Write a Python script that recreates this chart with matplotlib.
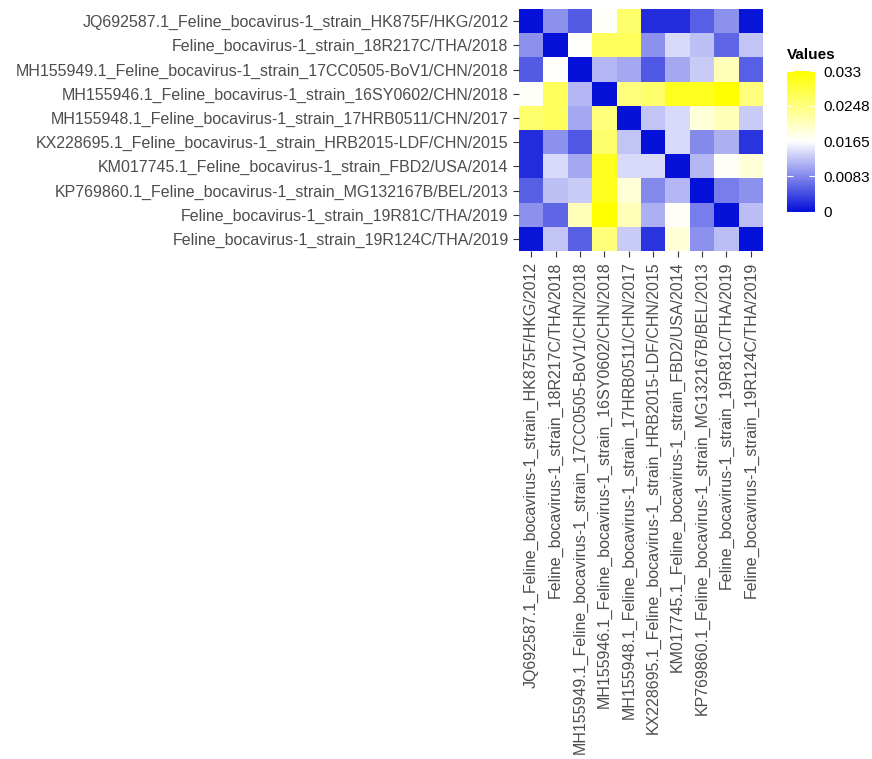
import numpy as np
import matplotlib
matplotlib.use("Agg")
import matplotlib.pyplot as plt
from matplotlib.colors import LinearSegmentedColormap

# strain labels, same order for rows (top to bottom) and columns (left to right)
strains = [
    "JQ692587.1_Feline_bocavirus-1_strain_HK875F/HKG/2012",
    "Feline_bocavirus-1_strain_18R217C/THA/2018",
    "MH155949.1_Feline_bocavirus-1_strain_17CC0505-BoV1/CHN/2018",
    "MH155946.1_Feline_bocavirus-1_strain_16SY0602/CHN/2018",
    "MH155948.1_Feline_bocavirus-1_strain_17HRB0511/CHN/2017",
    "KX228695.1_Feline_bocavirus-1_strain_HRB2015-LDF/CHN/2015",
    "KM017745.1_Feline_bocavirus-1_strain_FBD2/USA/2014",
    "KP769860.1_Feline_bocavirus-1_strain_MG132167B/BEL/2013",
    "Feline_bocavirus-1_strain_19R81C/THA/2019",
    "Feline_bocavirus-1_strain_19R124C/THA/2019",
]

# pairwise distances
row_jq692587 = [0.0, 0.009, 0.0052, 0.0168, 0.026, 0.002, 0.002, 0.0055, 0.009, 0.0003]
row_18r217c = [0.009, 0.0, 0.0165, 0.027, 0.027, 0.009, 0.014, 0.0122, 0.006, 0.0125]
row_mh155949 = [0.0052, 0.0165, 0.0, 0.0115, 0.0105, 0.005, 0.0105, 0.013, 0.021, 0.0055]
row_mh155946 = [0.0168, 0.027, 0.0115, 0.0, 0.025, 0.026, 0.031, 0.031, 0.033, 0.025]
row_mh155948 = [0.026, 0.027, 0.0105, 0.025, 0.0, 0.0125, 0.014, 0.019, 0.021, 0.013]
row_kx228695 = [0.002, 0.009, 0.005, 0.026, 0.0125, 0.0, 0.014, 0.0085, 0.011, 0.0025]
row_km017745 = [0.002, 0.014, 0.0105, 0.031, 0.014, 0.014, 0.0, 0.0115, 0.017, 0.019]
row_kp769860 = [0.0055, 0.0122, 0.013, 0.031, 0.019, 0.0085, 0.0115, 0.0, 0.0075, 0.009]
row_19r81c = [0.009, 0.006, 0.021, 0.033, 0.021, 0.011, 0.017, 0.0075, 0.0, 0.012]
row_19r124c = [0.0003, 0.0125, 0.0055, 0.025, 0.013, 0.0025, 0.019, 0.009, 0.012, 0.0]

legend_ticks = [0, 0.0083, 0.0165, 0.0248, 0.033]
legend_labels = ["0", "0.0083", "0.0165", "0.0248", "0.033"]

mat = np.array([row_jq692587, row_18r217c, row_mh155949, row_mh155946, row_mh155948,
                row_kx228695, row_km017745, row_kp769860, row_19r81c, row_19r124c])

plt.rcParams["font.family"] = ["Liberation Sans", "DejaVu Sans"]
grey = "#4D4D4D"
cmap = LinearSegmentedColormap.from_list("bwy", ["#0510D8", "#FFFFFF", "#FFFF00"])
vmin, vmax = 0, 0.033

fig = plt.figure(figsize=(8.72, 7.59), dpi=100)
ax = fig.add_axes([0.5952, 0.6693, 0.2798, 0.3188])
n = len(strains)
mesh = ax.pcolormesh(np.arange(n + 1), np.arange(n + 1), mat, cmap=cmap, vmin=vmin, vmax=vmax)
ax.set_xlim(0, n)
ax.set_ylim(n, 0)
ax.set_xticks(np.arange(n) + 0.5)
ax.set_yticks(np.arange(n) + 0.5)
ax.set_xticklabels(strains, rotation=90, fontsize=11.5, color=grey)
ax.set_yticklabels(strains, fontsize=11.5, color=grey)
ax.tick_params(length=4.5, width=0.8, color="#333333", pad=3)
for s in ax.spines.values():
    s.set_visible(False)

# colour legend
cax = fig.add_axes([0.9025, 0.7190, 0.0321, 0.1924])
cb = fig.colorbar(mesh, cax=cax, ticks=legend_ticks)
cb.outline.set_visible(False)
cax.set_ylim(-0.0004, 0.0339)
cb.ax.set_yticklabels(legend_labels, fontsize=11, color="black")
cb.ax.tick_params(length=0, pad=6)
for t in legend_ticks:
    cax.plot([0, 0.2], [t, t], color="white", lw=0.8, solid_capstyle="butt",
             transform=cax.get_yaxis_transform())
    cax.plot([0.8, 1.0], [t, t], color="white", lw=0.8, solid_capstyle="butt",
             transform=cax.get_yaxis_transform())
fig.text(0.9025, 0.918, "Values", fontsize=11, fontweight="bold", ha="left", va="bottom")

plt.savefig("out.png", dpi=100)
